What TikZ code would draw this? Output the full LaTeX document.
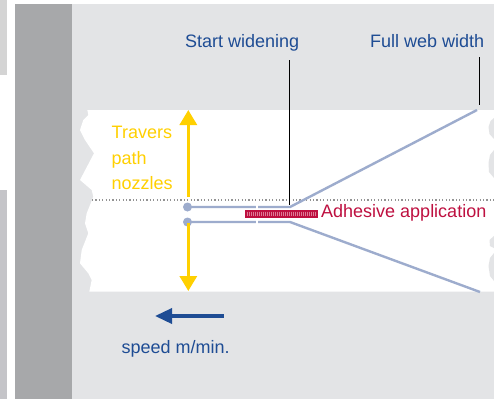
\documentclass[tikz,border=0pt]{standalone}
\usepackage{fontspec}
\setmainfont{Liberation Sans}
\usetikzlibrary{arrows.meta}
\definecolor{bgl}{RGB}{227,228,230}
\definecolor{bgd}{RGB}{167,168,170}
\definecolor{stripA}{RGB}{212,212,212}
\definecolor{stripB}{RGB}{196,196,200}
\definecolor{nozz}{RGB}{157,172,205}
\definecolor{lblue}{RGB}{30,76,148}
\definecolor{yel}{RGB}{255,208,0}
\definecolor{adh}{RGB}{190,16,64}
\begin{document}
\begin{tikzpicture}[x=1pt,y=-1pt,
  lbl/.style={inner sep=0, anchor=base west, font=\fontsize{18}{20}\selectfont},
  nozzleline/.style={nozz, line width=2.4pt},
  pointer/.style={black, line width=0.9pt},
  yarrow/.style={yel, line width=3.2pt, -{Triangle[length=15pt,width=17pt]}},
  barrow/.style={lblue, line width=3.5pt, -{Triangle[length=17pt,width=15pt]}}]
\useasboundingbox (0,0) rectangle (494,399);
\fill[white] (0,0) rectangle (494,399);
% left strip of neighbouring picture
\fill[stripA] (0,0) rectangle (7,75);
\fill[stripB] (0,190) rectangle (7,399);
% backgrounds
\fill[bgd] (15,4) rectangle (72,399);
\fill[bgl] (72,4) rectangle (494,399);
% web
\fill[white] (87.3,110) -- (494,110) -- (494,291.7) -- (89.3,291.7) -- (91.7,280) -- (88.3,273.3)
  -- (80,263.3) -- (81.7,250) -- (88.3,233.3) -- (85,223.3) -- (86.7,213.3) -- (93.3,196.7)
  -- (91.7,190) -- (80,180) -- (94,153.3) -- (85,140) -- (80,130) -- (83.3,120) -- (88.3,115) -- cycle;
% right edge bumps
\fill[bgl] (494,118) -- (490.5,121) -- (488.5,127) -- (489.5,134) -- (494,139) -- cycle;
\fill[bgl] (494,150) -- (490,155) -- (488.5,163) -- (489,172) -- (494,178) -- cycle;
\fill[bgl] (494,236) -- (489.5,240) -- (490,246) -- (494,248) -- cycle;
\fill[bgl] (494,253) -- (490,258) -- (488.5,266) -- (490,276) -- (494,281) -- cycle;
% centre line
\draw[gray!85, line width=1.2pt, dash pattern=on 1.2pt off 2.2pt] (92,200) -- (494,200);
% nozzle paths
\coordinate (n1) at (187.5,207);
\coordinate (n2) at (187.5,222);
\coordinate (b1) at (290,207);
\coordinate (b2) at (290,222);
\coordinate (e1) at (477,110);
\coordinate (e2) at (480,292);
\draw[nozzleline] (n1) -- (b1) -- (e1);
\draw[nozzleline] (n2) -- (b2) -- (e2);
\fill[nozz] (n1) circle (4.5pt);
\fill[nozz] (n2) circle (4.5pt);
\draw[white, line width=2pt] (257,204.5) -- (257,224);
% adhesive bar
\fill[adh] (245,210) rectangle (318.3,217.7);
\foreach \x in {247,249,...,316} \draw[white!45!adh, line width=0.6pt] (\x,211.7) -- (\x,216);
% labels
\node[lbl, text=lblue] (sw) at (185,47) {Start widening};
\node[lbl, text=lblue] (fw) at (370,47) {Full web width};
\node[lbl, text=adh] (ad) at (321,217.5) {Adhesive application};
\node[lbl, text=yel] (t1) at (111.5,138.5) {Travers};
\node[lbl, text=yel] (t2) at (111.5,164) {path};
\node[lbl, text=yel] (t3) at (111.5,189.5) {nozzles};
\node[lbl, text=lblue] (sp) at (121.5,353) {speed m/min.};
% pointer lines
\coordinate (swtop) at (289.5,60);
\coordinate (swbot) at (289.5,205);
\coordinate (fwtop) at (479.5,57);
\coordinate (fwbot) at (479.5,105);
\draw[pointer] (swtop) -- (swbot);
\draw[pointer] (fwtop) -- (fwbot);
% traverse arrows
\coordinate (ya1) at (188.3,197);
\coordinate (ya2) at (188.3,110);
\coordinate (yb1) at (188.3,223);
\coordinate (yb2) at (188.3,291);
\draw[yarrow] (ya1) -- (ya2);
\draw[yarrow] (yb1) -- (yb2);
% speed arrow
\coordinate (s1) at (223.5,316);
\coordinate (s2) at (155,316);
\draw[barrow] (s1) -- (s2);
\end{tikzpicture}
\end{document}
